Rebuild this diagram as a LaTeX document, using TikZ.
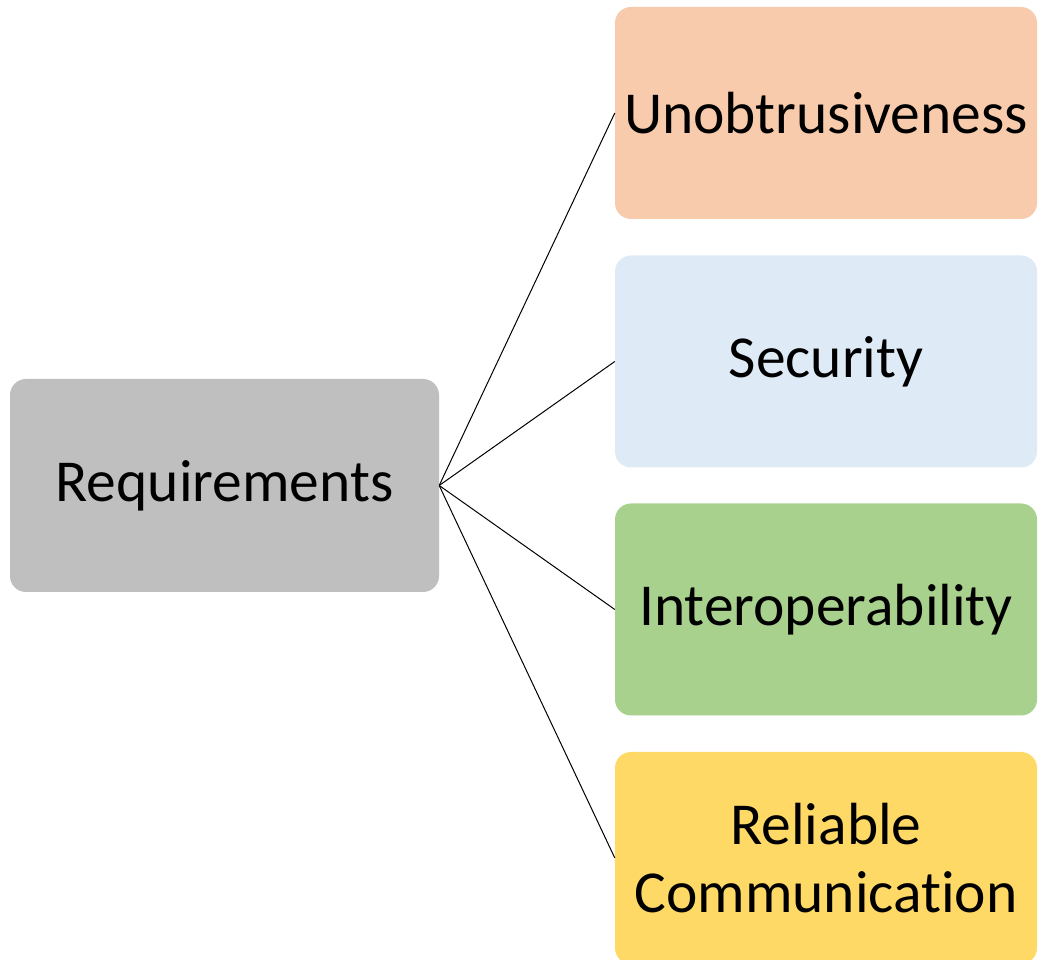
\documentclass[tikz,border=0pt]{standalone}
\usepackage{fontspec}
\setmainfont{Carlito}[Ligatures={NoCommon}]
\definecolor{cgray}{HTML}{BFBFBF}
\definecolor{corange}{HTML}{F8CBAD}
\definecolor{cblue}{HTML}{DEEBF7}
\definecolor{cgreen}{HTML}{A9D18E}
\definecolor{cyellow}{HTML}{FFD966}
\tikzset{
  box/.style={rectangle, rounded corners=16pt, draw=none, inner sep=0pt,
    align=center, font=\fontsize{59.5}{68}\selectfont, text=black},
  leftbox/.style={box, fill=cgray, minimum width=429pt, minimum height=213pt},
  rightbox/.style={box, minimum width=422pt, minimum height=212pt},
  link/.style={draw=black, line width=1pt}
}
\begin{document}
\begin{tikzpicture}[x=1pt,y=1pt]
\useasboundingbox (0,0) rectangle (1038,960);
\clip (0,0) rectangle (1038,960);
\fill[white] (0,0) rectangle (1038,960);
\node[leftbox] (req) at (224.5,474.5) {Requirements};
\node[rightbox, fill=corange] (uno) at (826,847) {Unobtrusiveness};
\node[rightbox, fill=cblue] (sec) at (826,598.5) {Security};
\node[rightbox, fill=cgreen] (int) at (826,350.5) {Interoperability};
\node[rightbox, fill=cyellow] (rel) at (826,102) {Reliable\\Communication};
\draw[link] (req.east) -- (uno.west);
\draw[link] (req.east) -- (sec.west);
\draw[link] (req.east) -- (int.west);
\draw[link] (req.east) -- (rel.west);
\end{tikzpicture}
\end{document}
